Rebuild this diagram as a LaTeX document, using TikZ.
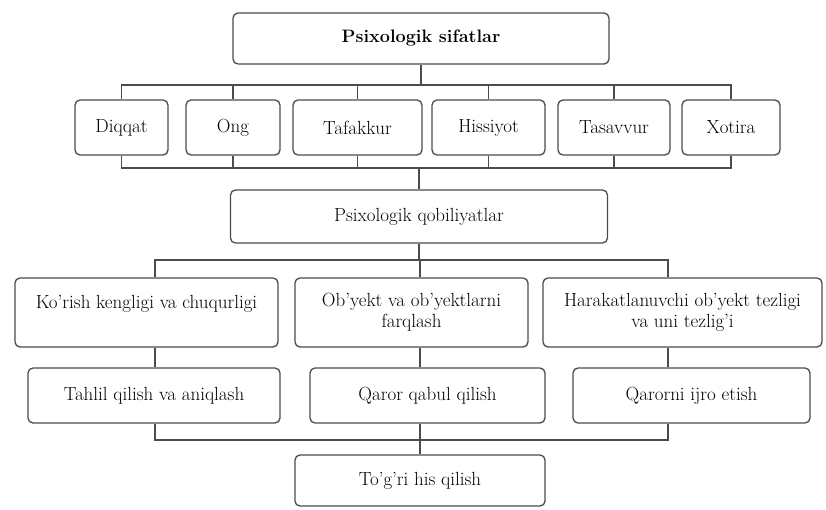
\documentclass[tikz,border=0pt]{standalone}
\begin{document}
\begin{tikzpicture}[x=1pt,y=-1pt,
  box/.style={draw=black!70, line width=1.3pt, rounded corners=5pt, fill=white,
    inner sep=2pt, align=center, font=\fontsize{19}{21}\selectfont},
  conn/.style={draw=black!70, line width=1.2pt}]
\useasboundingbox (0,0) rectangle (826,509);
% top
\node[box, minimum width=376pt, minimum height=51pt, font=\fontsize{18}{21}\selectfont\bfseries] (top) at (421,38.5) {Psixologik sifatlar};
% row 2
\node[box, minimum width=93pt, minimum height=55pt] (diq) at (121.5,127.5) {Diqqat};
\node[box, minimum width=94pt, minimum height=55pt] (ong) at (233,127.5) {Ong};
\node[box, minimum width=129pt, minimum height=55pt] (taf) at (357.5,127.5) {Tafakkur};
\node[box, minimum width=113pt, minimum height=55pt] (his) at (488.5,127.5) {Hissiyot};
\node[box, minimum width=112pt, minimum height=55pt] (tas) at (614,127.5) {Tasavvur};
\node[box, minimum width=98pt, minimum height=55pt] (xot) at (731,127.5) {Xotira};
% qobiliyatlar
\node[box, minimum width=377pt, minimum height=53pt] (qob) at (419,216.5) {Psixologik qobiliyatlar};
% row 3
\node[box, minimum width=263pt, minimum height=69pt] (r3a) at (146.5,312.5) {Ko'rish kengligi va chuqurligi\\ \mbox{}};
\node[box, minimum width=233pt, minimum height=69pt] (r3b) at (411.5,312.5) {Ob'yekt va ob'yektlarni\\ farqlash};
\node[box, minimum width=279pt, minimum height=69pt] (r3c) at (682.5,312.5) {Harakatlanuvchi ob'yekt tezligi\\ va uni tezlig'i};
% row 4
\node[box, minimum width=252pt, minimum height=55pt] (r4a) at (154,395.5) {Tahlil qilish va aniqlash};
\node[box, minimum width=235pt, minimum height=55pt] (r4b) at (427.5,395.5) {Qaror qabul qilish};
\node[box, minimum width=237pt, minimum height=55pt] (r4c) at (691.5,395.5) {Qarorni ijro etish};
% final
\node[box, minimum width=250pt, minimum height=51pt] (fin) at (420,480.5) {To'g'ri his qilish};
% bus coordinates
\coordinate (b1) at (421,85);
\coordinate (b2) at (419,168);
\coordinate (b3) at (419,260);
\coordinate (b4) at (420,440);
% connectors top -> row 2
\draw[conn] (top.south) -- (b1);
\foreach \n in {diq,ong,taf,his,tas,xot} \draw[conn] (b1) -| (\n.north);
% row 2 -> qob
\foreach \n in {diq,ong,taf,his,tas,xot} \draw[conn] (\n.south) |- (b2);
\draw[conn] (b2) -- (qob.north);
% qob -> row 3
\draw[conn] (qob.south) -- (b3);
\draw[conn] (b3) -| ([xshift=8.5pt]r3a.north);
\draw[conn] (b3) -| ([xshift=8.5pt]r3b.north);
\draw[conn] (b3) -| ([xshift=-14.5pt]r3c.north);
% row 3 -> row 4
\draw[conn] ([xshift=8.5pt]r3a.south) -- ([xshift=1pt]r4a.north);
\draw[conn] ([xshift=8.5pt]r3b.south) -- ([xshift=-7.5pt]r4b.north);
\draw[conn] ([xshift=-14.5pt]r3c.south) -- ([xshift=-23.5pt]r4c.north);
% row 4 -> final
\draw[conn] ([xshift=1pt]r4a.south) |- (b4);
\draw[conn] ([xshift=-7.5pt]r4b.south) -- (b4);
\draw[conn] ([xshift=-23.5pt]r4c.south) |- (b4);
\draw[conn] (b4) -- (fin.north);
\end{tikzpicture}
\end{document}
